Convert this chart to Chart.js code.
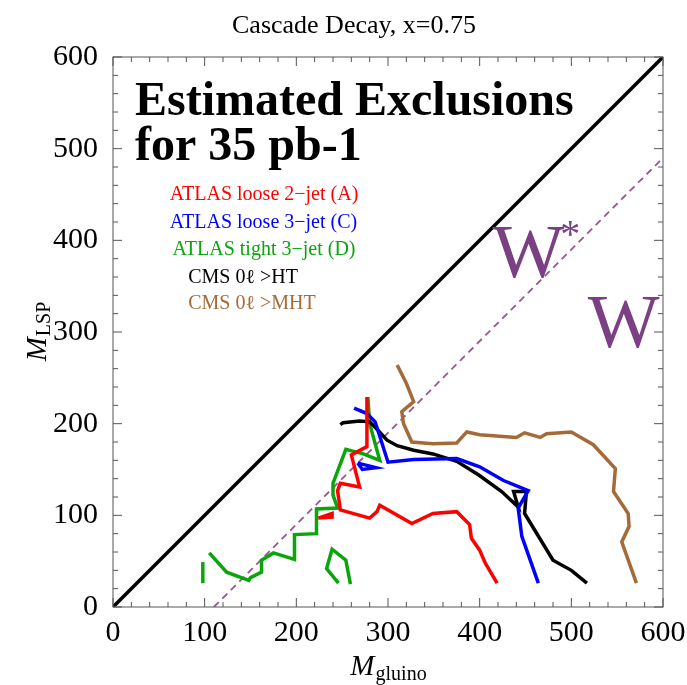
<!DOCTYPE html>
<html>
<head>
<meta charset="utf-8">
<script src="https://cdn.jsdelivr.net/npm/chart.js@4.4.1/dist/chart.umd.min.js"></script>
<style>
  body { margin: 0; background: #fff; }
  canvas { display: block; }
</style>
</head>
<body>
<canvas id="myChart" width="687" height="685"></canvas>
<script>
// axis range / tick labels
const axisMin = 0;
const axisMax = 600;
const tickLabels = [0, 100, 200, 300, 400, 500, 600];

// reference lines, [M_gluino, M_LSP]
const diagonal = [[0, 0], [600, 600]];
const wBoundary = [[110, 0], [600, 490]];

// estimated exclusion curves, [M_gluino, M_LSP]
const atlasLoose2jet = [[277, 229], [277, 175], [260, 166], [269, 131], [248, 135], [245, 127], [248, 106],
  [280, 97], [288, 104], [291, 111], [326, 91], [349, 102], [375, 104], [389, 90], [391, 75],
  [400, 62], [406, 48], [419, 26]];
const atlasLoose2jetIsland = [[224, 97], [239, 102], [239, 98], [224, 97]];

const atlasLoose3jet = [[263, 217], [277, 211], [286, 202], [300, 158], [328, 161], [375, 162],
  [400, 153], [426, 138], [453, 127], [442, 108], [446, 77], [464, 26]];
const atlasLoose3jetIsland = [[267, 157], [287, 152], [272, 150], [267, 157]];

const atlasTight3jetBar = [[98, 26], [98, 49]];
const atlasTight3jet = [[105, 59], [124, 38], [140, 32], [148, 29], [150, 32], [162, 38], [162, 51],
  [175, 59], [198, 52], [198, 79], [222, 80], [222, 107], [245, 108], [240, 122], [240, 135],
  [254, 172], [273, 167], [291, 160], [280, 200], [278, 229]];
const atlasTight3jetIsland = [[246, 26], [233, 42], [239, 63], [254, 51], [259, 25]];

const cmsHT = [[248, 199], [251, 201], [269, 203], [280, 202], [286, 196], [299, 182], [310, 176],
  [328, 171], [349, 167], [375, 159], [399, 144], [424, 126], [442, 109], [437, 126], [451, 126],
  [449, 102], [480, 51], [500, 40], [517, 26]];

const cmsMHT = [[310, 264], [320, 244], [328, 224], [315, 213], [317, 200], [326, 180], [349, 178],
  [375, 179], [386, 191], [400, 188], [440, 185], [449, 190], [466, 185], [473, 189], [500, 191],
  [524, 177], [548, 151], [546, 126], [562, 102], [563, 88], [555, 71], [571, 26]];

const serif = "'Liberation Serif', 'Times New Roman', serif";
const RED = "#ff0000";
const BLUE = "#0000ff";
const GREEN = "#0aa50a";
const BROWN = "#a46b38";
const PURPLE = "#7b3f84";

const toPts = (arr) => arr.map(([x, y]) => ({ x, y }));

function curve(pts, color, width) {
  return {
    data: toPts(pts),
    borderColor: color,
    backgroundColor: color,
    borderWidth: width || 3.5,
    showLine: true,
    fill: false,
    pointRadius: 0,
    tension: 0,
    borderJoinStyle: "miter",
  };
}

// legend entries drawn as text on the plot
const legendRows = [
  { text: "ATLAS loose 2\u2212jet (A)", color: RED, x: 62, y: 444 },
  { text: "ATLAS loose 3\u2212jet (C)", color: BLUE, x: 62, y: 414 },
  { text: "ATLAS tight 3\u2212jet (D)", color: GREEN, x: 65, y: 384 },
  { text: "CMS 0\u2113 >HT", color: "#000000", x: 82, y: 354 },
  { text: "CMS 0\u2113 >MHT", color: BROWN, x: 82, y: 325 },
];

function drawSub(ctx, main, sub, mainFont, subFont, drop) {
  ctx.font = mainFont;
  const w1 = ctx.measureText(main).width;
  ctx.font = subFont;
  const w2 = ctx.measureText(sub).width;
  const start = -(w1 + w2) / 2;
  ctx.font = mainFont;
  ctx.fillText(main, start, 0);
  ctx.font = subFont;
  ctx.fillText(sub, start + w1 + 1, drop);
}

const decorations = {
  id: "decorations",
  afterDraw(chart) {
    const { ctx, chartArea: a, scales } = chart;
    const xs = scales.x, ys = scales.y;
    ctx.save();

    // frame with inward ticks on all sides
    ctx.strokeStyle = "#555";
    ctx.lineWidth = 1;
    ctx.strokeRect(a.left, a.top, a.right - a.left, a.bottom - a.top);
    ctx.beginPath();
    for (let v = axisMin; v <= axisMax; v += 20) {
      const len = v % 100 === 0 ? 9 : 5;
      const px = xs.getPixelForValue(v);
      const py = ys.getPixelForValue(v);
      ctx.moveTo(px, a.bottom); ctx.lineTo(px, a.bottom - len);
      ctx.moveTo(px, a.top); ctx.lineTo(px, a.top + len);
      ctx.moveTo(a.left, py); ctx.lineTo(a.left + len, py);
      ctx.moveTo(a.right, py); ctx.lineTo(a.right - len, py);
    }
    ctx.stroke();

    ctx.fillStyle = "#000";
    ctx.textBaseline = "alphabetic";

    // title
    ctx.textAlign = "center";
    ctx.font = "26px " + serif;
    ctx.fillText("Cascade Decay, x=0.75", 354, 33);

    // heading
    ctx.textAlign = "left";
    ctx.font = "bold 48px " + serif;
    ctx.fillText("Estimated Exclusions", xs.getPixelForValue(24), ys.getPixelForValue(537));
    ctx.fillText("for 35 pb-1", xs.getPixelForValue(24), ys.getPixelForValue(488));

    // legend
    ctx.font = "20px " + serif;
    legendRows.forEach((r) => {
      ctx.fillStyle = r.color;
      ctx.fillText(r.text, xs.getPixelForValue(r.x), ys.getPixelForValue(r.y));
    });

    // W* / W regions
    ctx.fillStyle = PURPLE;
    ctx.font = "76px " + serif;
    const wx = xs.getPixelForValue(414), wy = ys.getPixelForValue(360);
    ctx.fillText("W", wx, wy);
    const ww = ctx.measureText("W").width;
    ctx.font = "40px " + serif;
    ctx.fillText("*", wx + ww - 4, wy - 30);
    ctx.font = "76px " + serif;
    ctx.fillText("W", xs.getPixelForValue(518), ys.getPixelForValue(284));

    // axis titles
    ctx.fillStyle = "#000";
    ctx.save();
    ctx.translate((a.left + a.right) / 2, 675);
    drawSub(ctx, "M", "gluino", "italic 29px " + serif, "20px " + serif, 5);
    ctx.restore();

    ctx.save();
    ctx.translate(46, ys.getPixelForValue(300));
    ctx.rotate(-Math.PI / 2);
    drawSub(ctx, "M", "LSP", "italic 29px " + serif, "20px " + serif, 4);
    ctx.restore();

    ctx.restore();
  },
};

const tickFont = { family: serif, size: 30 };

const ctx = document.getElementById("myChart").getContext("2d");
const myChart = new Chart(ctx, {
  type: "scatter",
  data: {
    datasets: [
      curve(atlasLoose2jet, RED),
      curve(atlasLoose2jetIsland, RED),
      curve(atlasLoose3jet, BLUE),
      curve(atlasLoose3jetIsland, BLUE),
      curve(cmsHT, "#000000"),
      curve(atlasTight3jet, GREEN),
      curve(atlasTight3jetBar, GREEN),
      curve(atlasTight3jetIsland, GREEN),
      curve(cmsMHT, BROWN),
      curve(diagonal, "#000000", 3.5),
      Object.assign(curve(wBoundary, "#9c5592", 1.8), { borderDash: [7, 5] }),
    ],
  },
  options: {
    responsive: false,
    animation: false,
    layout: { padding: { top: 57, right: 24, left: 0, bottom: 0 } },
    plugins: {
      legend: { display: false },
      tooltip: { enabled: false },
      title: { display: false },
    },
    scales: {
      x: {
        type: "linear",
        min: axisMin,
        max: axisMax,
        grid: { display: false },
        border: { display: false },
        afterBuildTicks: (s) => { s.ticks = tickLabels.map((v) => ({ value: v })); },
        afterFit: (s) => { s.height = 78; },
        ticks: { font: tickFont, color: "#000", padding: 0, maxRotation: 0 },
      },
      y: {
        type: "linear",
        min: axisMin,
        max: axisMax,
        grid: { display: false },
        border: { display: false },
        afterBuildTicks: (s) => { s.ticks = tickLabels.map((v) => ({ value: v })); },
        afterFit: (s) => { s.width = 113; },
        ticks: { font: tickFont, color: "#000", padding: 7 },
      },
    },
  },
  plugins: [decorations],
});
</script>
</body>
</html>
